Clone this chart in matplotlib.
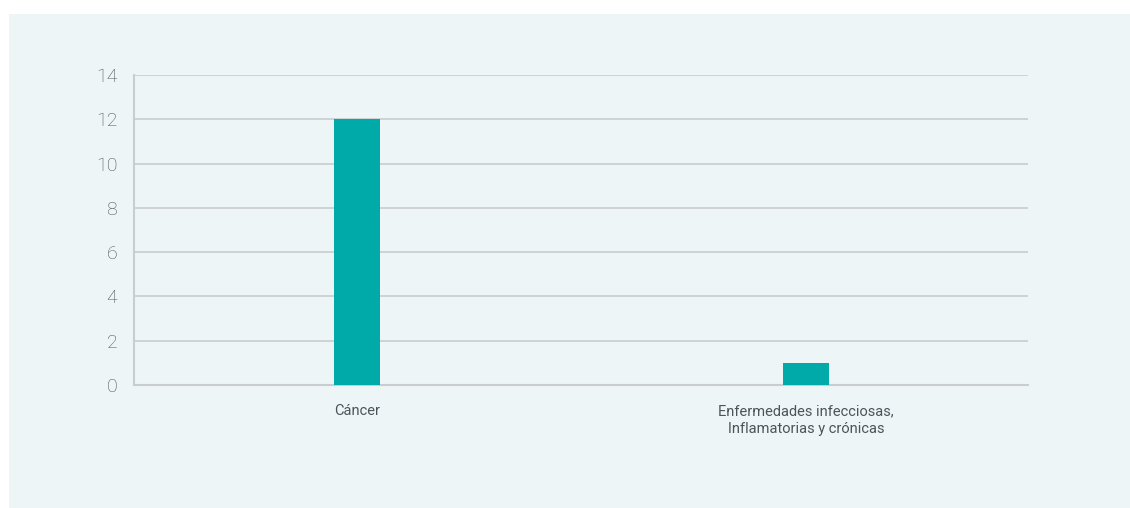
import matplotlib.pyplot as plt
from matplotlib.patches import Rectangle

categorias = ['Cáncer', 'Enfermedades infecciosas,\nInflamatorias y crónicas']
valores = [12, 1]
yticks = [0, 2, 4, 6, 8, 10, 12, 14]

fondo = '#eef5f7'
verde = '#00aaa8'
gris_txt = '#4e5357'
gris_lin = '#c9cdd0'

plt.rcParams['font.family'] = ['Roboto', 'DejaVu Sans']

fig = plt.figure(figsize=(11.3, 5.08), dpi=100)
fig.patch.set_facecolor('white')
# panel de fondo
fig.patches.append(Rectangle((9 / 1130, 0), 1, 494 / 508, transform=fig.transFigure,
                             facecolor=fondo, edgecolor='none', zorder=-10))

ax = fig.add_axes([134 / 1130, 123 / 508, 894 / 1130, 310 / 508])
ax.set_zorder(5)
ax.patch.set_alpha(0)

x = range(len(categorias))
ax.bar(x, valores, width=0.103, color=verde, zorder=3)

ax.set_xlim(-0.497, 1.494)
ax.set_ylim(0, 14)
ax.set_yticks(yticks)
ax.set_yticklabels([str(v) for v in yticks], fontsize=14, color=gris_txt,
                   fontweight='light')
ax.set_xticks(list(x))
ax.set_xticklabels(categorias, fontsize=10.5, color=gris_txt, fontweight='normal',
                   linespacing=1.3)
ax.tick_params(axis='both', length=0)
ax.tick_params(axis='y', pad=12)
ax.tick_params(axis='x', pad=14)

ax.grid(axis='y', color=gris_lin, linewidth=1.2, zorder=1)
for s in ['top', 'right']:
    ax.spines[s].set_visible(False)
for s in ['left', 'bottom']:
    ax.spines[s].set_color(gris_lin)
    ax.spines[s].set_linewidth(1.5)

fig.savefig('out.png', dpi=100)
